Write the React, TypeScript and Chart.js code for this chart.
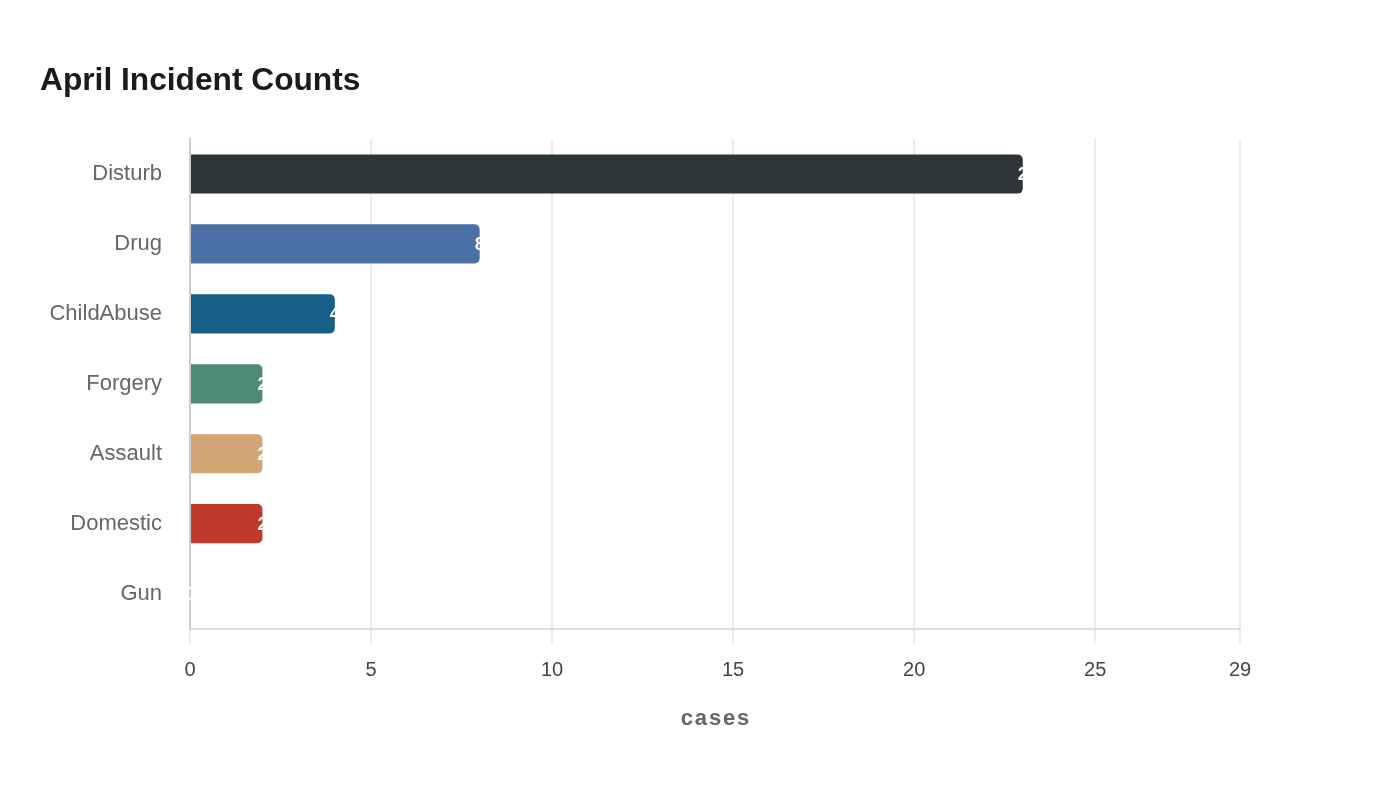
import React, { useEffect, useRef } from 'react';
import { Chart, registerables } from 'chart.js';

Chart.register(...registerables);

const categories = ['Disturb', 'Drug', 'ChildAbuse', 'Forgery', 'Assault', 'Domestic', 'Gun'];
const counts = [23, 8, 4, 2, 2, 2, 0];
const barColors = ['#2d3538', '#4a6fa5', '#166088', '#4f8a78', '#d4a574', '#c0392b', '#7f8c8d'];
const axisMax = 29;
const chartTitle = 'April Incident Counts';
const axisTitle = 'cases';

const FONT = '"Liberation Sans", Arial, sans-serif';

// white value labels drawn just inside the end of each bar
const valueLabels = {
  id: 'valueLabels',
  afterDatasetsDraw(chart: Chart) {
    const ctx = chart.ctx;
    const meta = chart.getDatasetMeta(0);
    ctx.save();
    ctx.fillStyle = '#ffffff';
    ctx.font = `bold 18px ${FONT}`;
    ctx.textAlign = 'left';
    ctx.textBaseline = 'middle';
    meta.data.forEach((bar: any, i: number) => {
      ctx.fillText(String(counts[i]), bar.x - 5, bar.y + 1);
    });
    ctx.restore();
  },
};

// the axis title is letter-spaced, which Chart.js can't do, so it's drawn here
// over the transparent built-in one (kept for the layout space)
const spacedAxisTitle = {
  id: 'spacedAxisTitle',
  afterDraw(chart: any) {
    const ctx = chart.ctx;
    const xs = chart.scales.x;
    ctx.save();
    (ctx as any).letterSpacing = '1.8px';
    ctx.textBaseline = 'middle';
    ctx.textAlign = 'center';
    ctx.fillStyle = '#666666';
    ctx.font = `bold 22px ${FONT}`;
    const cx = (chart.chartArea.left + chart.chartArea.right) / 2 + 0.9;
    ctx.fillText(axisTitle, cx, xs.bottom - (22 * 1.2) / 2);
    ctx.restore();
  },
};

const App: React.FC = () => {
  const chartRef = useRef<HTMLCanvasElement>(null);

  useEffect(() => {
    if (!chartRef.current) return;
    const ctx = chartRef.current.getContext('2d');
    if (!ctx) return;

    const chart = new Chart(ctx, {
      type: 'bar',
      data: {
        labels: categories,
        datasets: [
          {
            label: axisTitle,
            data: counts,
            backgroundColor: barColors,
            borderRadius: 5,
            categoryPercentage: 1,
            barPercentage: 0.56,
          },
        ],
      },
      options: {
        indexAxis: 'y',
        animation: false,
        responsive: true,
        maintainAspectRatio: false,
        layout: { padding: { left: 40, right: 160, top: 0, bottom: 68 } },
        plugins: {
          legend: { display: false },
          tooltip: { enabled: false },
          title: {
            display: true,
            text: chartTitle,
            align: 'start',
            color: '#1b1b1b',
            font: { family: FONT, size: 31.7, weight: 'bold' },
            padding: { top: 62, bottom: 39 },
          },
        },
        scales: {
          x: {
            min: 0,
            max: axisMax,
            ticks: {
              stepSize: 5,
              color: '#444444',
              padding: 15,
              font: { family: FONT, size: 20 },
            },
            grid: { color: '#ececec', lineWidth: 2, tickLength: 15 },
            border: { color: '#dddddd', width: 2 },
            title: {
              display: true,
              text: axisTitle,
              color: 'rgba(0,0,0,0)',
              font: { family: FONT, size: 22, weight: 'bold' },
              padding: { top: 8, bottom: 0 },
            },
          },
          y: {
            grid: { display: false },
            border: { color: '#cccccc', width: 2 },
            ticks: {
              color: '#666666',
              padding: 20,
              font: { family: FONT, size: 22 },
            },
            afterFit(scale: any) {
              scale.width = 150;
            },
          },
        },
      },
      plugins: [valueLabels, spacedAxisTitle],
    });

    return () => {
      chart.destroy();
    };
  }, []);

  return (
    <div style={{ position: 'absolute', left: 0, top: 0, width: 1400, height: 800, background: '#ffffff' }}>
      <canvas ref={chartRef}></canvas>
    </div>
  );
};

export default App;
